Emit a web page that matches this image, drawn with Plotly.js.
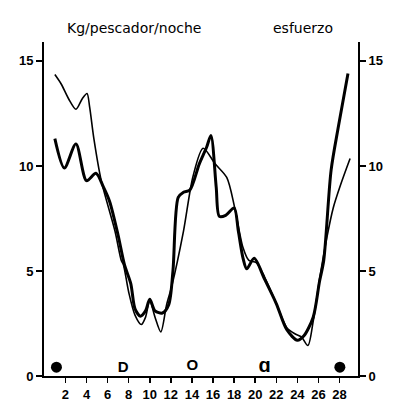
<!DOCTYPE html>
<html>
<head>
<meta charset="utf-8">
<script src="https://cdn.plot.ly/plotly-3.0.1.min.js"></script>
<style>html,body{margin:0;padding:0;background:#fff;}#chart{width:400px;height:411px;}</style>
</head>
<body>
<div id="chart"></div>
<script>
// Kg/pescador/noche (thick line)
const kgX = [1.0,1.9,3.0,4.0,4.9,5.6,6.2,7.0,7.6,8.2,8.6,9.1,9.6,10.0,10.5,11.2,11.8,12.2,12.7,13.2,13.8,14.7,15.4,15.8,16.3,16.6,17.2,18.0,18.4,18.85,19.2,19.9,20.9,22.0,23.0,24.0,24.6,25.5,26.1,26.5,27.2,27.9,28.8];
const kgY = [11.3,9.9,11.05,9.3,9.65,9.0,8.3,6.7,5.3,4.4,3.2,2.85,3.1,3.65,3.1,3.0,3.4,5.0,8.5,8.75,8.85,10.1,10.9,11.45,9.0,7.6,7.65,8.0,6.9,5.6,5.1,5.6,4.6,3.45,2.2,1.7,1.9,2.8,4.5,5.5,9.8,11.9,14.4];
// esfuerzo (thin line)
const efX = [1.0,1.6,2.3,3.0,3.6,4.05,4.3,4.7,5.4,6.7,7.3,7.5,8.0,8.6,9.2,9.6,10.0,10.5,11.05,11.6,12.1,13.2,14.1,15.06,16.2,17.3,18.06,18.85,19.4,20.1,20.9,22.0,23.0,23.8,24.4,25.0,25.5,26.1,26.8,27.4,28.1,29.0];
const efY = [14.35,13.9,13.2,12.7,13.2,13.45,12.8,11.3,9.3,6.9,5.5,5.3,4.0,2.9,2.45,2.8,3.6,2.8,2.1,3.4,4.3,6.9,9.5,10.84,10.1,9.45,8.0,6.1,5.5,5.4,4.7,3.45,2.3,2.0,1.85,1.45,2.6,4.6,6.6,8.0,9.1,10.35];
// lunar phases
const moonDotX = [1.15, 28.03];
const moonDotY = [0.42, 0.42];
const moonTextX = [7.47, 14.05, 20.9];
const moonTextY = [0.38, 0.45, 0.45];
const moonText = ["D", "O", "ɑ"];
const moonSize = [15, 15, 20];
const xTicks = [2,4,6,8,10,12,14,16,18,20,22,24,26,28];
const yTicks = [0,5,10,15];

const traces = [
  {x: kgX, y: kgY, mode: 'lines', line: {color: '#000', width: 3, shape: 'spline', smoothing: 0.8}, hoverinfo: 'skip'},
  {x: efX, y: efY, mode: 'lines', yaxis: 'y2', line: {color: '#000', width: 1.6, shape: 'spline', smoothing: 0.8}, hoverinfo: 'skip'},
  {x: moonDotX, y: moonDotY, mode: 'markers', marker: {color: '#000', size: 11}, hoverinfo: 'skip'},
  {x: moonTextX, y: moonTextY, mode: 'text', text: moonText, textfont: {family: 'Liberation Sans, Arial', size: moonSize, weight: 'bold', color: '#000'}, hoverinfo: 'skip'}
];

const tickFont = {family: 'Liberation Sans, Arial', size: 13, weight: 'bold', color: '#000'};
const layout = {
  width: 400, height: 411,
  margin: {l: 44, r: 42, t: 42, b: 35},
  paper_bgcolor: '#fff', plot_bgcolor: '#fff',
  showlegend: false,
  xaxis: {range: [-0.03, 29.75], tickvals: xTicks, ticktext: xTicks.map(String), ticks: 'outside', ticklen: 5, tickwidth: 1.5, tickcolor: '#000',
          showline: true, linewidth: 2, linecolor: '#000', showgrid: false, zeroline: false, tickfont: tickFont},
  yaxis: {range: [0, 15.9], tickvals: yTicks, ticktext: yTicks.map(String), ticks: 'outside', ticklen: 6, tickwidth: 1.5, tickcolor: '#000',
          showline: true, linewidth: 2, linecolor: '#000', showgrid: false, zeroline: false, tickfont: tickFont},
  yaxis2: {range: [0, 15.9], overlaying: 'y', side: 'right', tickvals: yTicks, ticktext: yTicks.map(String), ticks: 'outside', ticklen: 6, tickwidth: 1.5, tickcolor: '#000',
          showline: true, linewidth: 2, linecolor: '#000', showgrid: false, zeroline: false, tickfont: tickFont},
  annotations: [
    {text: 'Kg/pescador/noche', xref: 'paper', yref: 'paper', x: 0.288, y: 1.042, xanchor: 'center', yanchor: 'middle', showarrow: false,
     font: {family: 'DejaVu Sans', size: 14, color: '#000'}},
    {text: 'esfuerzo', xref: 'paper', yref: 'paper', x: 0.825, y: 1.042, xanchor: 'center', yanchor: 'middle', showarrow: false,
     font: {family: 'DejaVu Sans', size: 14, color: '#000'}}
  ]
};
Plotly.newPlot('chart', traces, layout, {displayModeBar: false, staticPlot: true});
</script>
</body>
</html>
